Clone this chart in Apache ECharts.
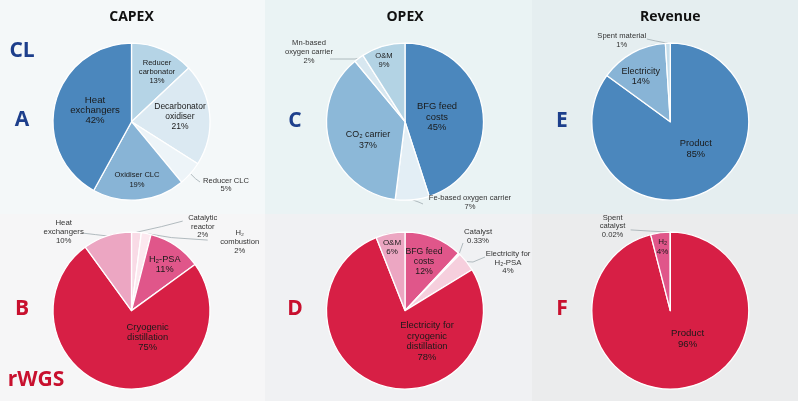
<!DOCTYPE html>
<html><head><meta charset="utf-8">
<script src="https://cdn.jsdelivr.net/npm/echarts@6/dist/echarts.min.js"></script>
<style>html,body{margin:0;padding:0;background:#fff}#c{width:798px;height:401px}</style>
</head><body><div id="c"></div>
<script>
// ---- DATA ----
const capexCLNames = ['Reducer\ncarbonator', 'Decarbonator\noxidiser', 'Reducer CLC', 'Oxidiser CLC', 'Heat\nexchangers'];
const capexCLValues = [13, 21, 5, 19, 42];
const opexCLNames = ['BFG feed\ncosts', 'Fe-based oxygen carrier', 'CO₂ carrier', 'Mn-based\noxygen carrier', 'O&M'];
const opexCLValues = [45, 7, 37, 2, 9];
const revCLNames = ['Product', 'Electricity', 'Spent material'];
const revCLValues = [85, 14, 1];
const capexRNames = ['Catalytic\nreactor', 'H₂\ncombustion', 'H₂-PSA', 'Cryogenic\ndistillation', 'Heat\nexchangers'];
const capexRValues = [2, 2, 11, 75, 10];
const opexRNames = ['BFG feed\ncosts', 'Catalyst', 'Electricity for\nH₂-PSA', 'Electricity for\ncryogenic\ndistillation', 'O&M'];
const opexRValues = [12, 0.33, 4, 78, 6];
const revRNames = ['Product', 'H₂', 'Spent\ncatalyst'];
const revRValues = [96, 4, 0.02];
const columnTitles = ['CAPEX', 'OPEX', 'Revenue'];

// ---- STYLE / LAYOUT ----
const colX = [131.5, 405, 670.3];
const rowY = [121.7, 310.6];
const R = 78.5;
const TXT = '#1a1a1a';
// per chart: colors, label offsets from centre, font size, line height, leader line points (offsets), outside flag
const charts = [
  {names: capexCLNames, values: capexCLValues, c: [colX[0], rowY[0]],
   colors: ['#b5d4e6', '#dbe9f2', '#edf4f8', '#88b4d6', '#4b87bd'],
   pos: [[25.5, -49.7], [48.5, -4.7], [94.5, 63.3], [5.5, 58.3], [-36.5, -11.7]],
   fs: [7.6, 8.5, 7.6, 7.6, 9.6], lh: [9, 10, 8, 9.3, 10],
   line: [null, null, [[64, 57], [68.5, 60.3]], null, null]},
  {names: opexCLNames, values: opexCLValues, c: [colX[1], rowY[0]],
   colors: ['#4b87bd', '#e3eef5', '#8cb8d8', '#d7e7f0', '#b3d3e4'],
   pos: [[32, -4.7], [65, 80.8], [-37, 18.3], [-96, -69.7], [-21, -61.7]],
   fs: [9.4, 7.6, 8.9, 7.6, 7.6], lh: [10.5, 9, 10.5, 9, 9],
   line: [null, [[14, 80.5], [18, 82.3]], null, [[-50, -62.7], [-75, -62.7]], null]},
  {names: revCLNames, values: revCLValues, c: [colX[2], rowY[0]],
   colors: ['#4b87bd', '#88b4d6', '#c6deeb'],
   pos: [[25.5, 26.8], [-29.5, -44.7], [-48.5, -81.2]],
   fs: [9.3, 9, 7.6], lh: [11, 10, 9],
   line: [null, null, [[-14.5, -80.7], [-23.5, -82.7]]]},
  {names: capexRNames, values: capexRValues, c: [colX[0], rowY[1]],
   colors: ['#f9dbe6', '#fce8ef', '#e0568a', '#d71f45', '#eca6c2'],
   pos: [[71.2, -84], [108.2, -68.5], [33.2, -46], [16.2, 26.5], [-67.8, -78.5]],
   fs: [7.6, 7.6, 9.2, 9.4, 7.8], lh: [8.4, 9, 9.5, 10, 9],
   line: [[[30, -84], [51.2, -89.5]], [[40, -73], [76.2, -70.5]], null, null, [[-36, -76], [-48.8, -77.5]]]},
  {names: opexRNames, values: opexRValues, c: [colX[1], rowY[1]],
   colors: ['#e0568a', '#fbe6ee', '#f6cfdd', '#d71f45', '#eca6c2'],
   pos: [[19, -49.1], [73, -74.1], [103, -48.1], [22, 30.9], [-13, -63.1]],
   fs: [8.7, 7.8, 7.8, 9.4, 8], lh: [10, 8.5, 8.7, 10.5, 9],
   line: [null, [[56, -62], [58, -67.6]], [[68, -48.6], [80, -53.6]], null, null]},
  {names: revRNames, values: revRValues, c: [colX[2], rowY[1]],
   colors: ['#d71f45', '#e0568a', '#f1c6d6'],
   pos: [[17.3, 27.8], [-7.7, -63.7], [-57.7, -84.2]],
   fs: [9.6, 8, 7.6], lh: [11, 9.5, 8.5],
   line: [null, null, [[-20, -79.5], [-39.7, -80.7]]]}
];

const series = charts.map((ch, si) => ({
  type: 'pie',
  center: ch.c,
  radius: R,
  startAngle: 90,
  clockwise: true,
  avoidLabelOverlap: false,
  minShowLabelAngle: 0,
  silent: true,
  emphasis: {disabled: true},
  itemStyle: {borderColor: '#ffffff', borderWidth: 1.3},
  labelLine: {lineStyle: {color: '#9fabb0', width: 0.8}, length: 5, length2: 5},
  label: {fontFamily: '"Liberation Sans", Arial, sans-serif', color: TXT},
  data: ch.names.map((n, i) => ({
    name: n,
    value: ch.values[i],
    itemStyle: {color: ch.colors[i]},
    label: {
      position: ch.line[i] ? 'outside' : 'inside',
      formatter: n + '\n' + ch.values[i] + '%',
      fontSize: ch.fs[i], lineHeight: ch.lh[i], color: ch.line[i] ? '#333' : TXT,
      align: 'center'
    },
    labelLine: {show: !!ch.line[i]}
  })),
  labelLayout: function (p) {
    const i = p.dataIndex;
    const cx = ch.c[0], cy = ch.c[1];
    const o = {x: cx + ch.pos[i][0], y: cy + ch.pos[i][1], align: 'center', verticalAlign: 'middle'};
    if (ch.line[i] && p.labelLinePoints) {
      o.labelLinePoints = [p.labelLinePoints[0]].concat(ch.line[i].map(q => [cx + q[0], cy + q[1]]));
    }
    return o;
  }
}));

const bgRects = [
  [0, 0, 265, 214, '#f4f8f9'], [265, 0, 267, 214, '#eaf3f4'], [532, 0, 266, 214, '#e5eef0'],
  [0, 214, 265, 187, '#f6f6f7'], [265, 214, 267, 187, '#f0f1f3'], [532, 214, 266, 187, '#ebeced']
];
const BLUE = '#1d3f8c', RED = '#c8102e';
const letters = [
  ['CL', 22, 51, BLUE], ['A', 22, 120, BLUE], ['C', 295, 121, BLUE], ['E', 562, 121, BLUE],
  ['B', 22, 309, RED], ['D', 295, 309, RED], ['F', 562, 309, RED], ['rWGS', 36, 380, RED]
];
const graphic = bgRects.map(r => ({type: 'rect', z: -10, silent: true,
  shape: {x: r[0], y: r[1], width: r[2], height: r[3]}, style: {fill: r[4]}}))
  .concat(columnTitles.map((t, i) => ({type: 'text', x: colX[i], y: 17, z: 10,
    style: {text: t, font: 'bold 14px "Open Sans", sans-serif', fill: '#111', align: 'center', verticalAlign: 'middle'}})))
  .concat(letters.map(l => ({type: 'text', x: l[1], y: l[2], z: 10,
    style: {text: l[0], font: 'bold 21px "Open Sans", sans-serif', fill: l[3], align: 'center', verticalAlign: 'middle'}})));

const chart = echarts.init(document.getElementById('c'), null, {renderer: 'canvas'});
chart.setOption({animation: false, backgroundColor: '#ffffff', graphic: graphic, series: series});
</script></body></html>
